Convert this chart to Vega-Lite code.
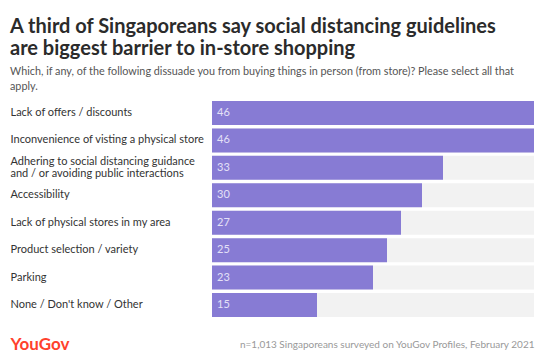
{
  "$schema": "https://vega.github.io/schema/vega-lite/v6.json",
  "width": 322,
  "height": 216,
  "autosize": "none",
  "padding": {"left": 212, "top": 101, "right": 10, "bottom": 42},
  "background": "white",
  "config": {"font": "Lato", "view": {"stroke": null}},
  "title": {
    "text": ["A third of Singaporeans say social distancing guidelines", "are biggest barrier to in-store shopping"],
    "subtitle": ["Which, if any, of the following dissuade you from buying things in person (from store)? Please select all that", "apply."],
    "anchor": "start",
    "frame": "group",
    "dx": -202,
    "offset": 9,
    "fontSize": 20,
    "fontWeight": "bold",
    "lineHeight": 22,
    "color": "#2b2b2b",
    "subtitleFontSize": 10.8,
    "subtitleColor": "#555555",
    "subtitleLineHeight": 15,
    "subtitlePadding": 7
  },
  "data": {
    "values": [
      {"label": "Lack of offers / discounts", "value": 46},
      {"label": "Inconvenience of visting a physical store", "value": 46},
      {"label": "Adhering to social distancing guidance|and / or avoiding public interactions", "value": 33},
      {"label": "Accessibility", "value": 30},
      {"label": "Lack of physical stores in my area", "value": 27},
      {"label": "Product selection / variety", "value": 25},
      {"label": "Parking", "value": 23},
      {"label": "None / Don't know / Other", "value": 15}
    ]
  },
  "encoding": {
    "y": {
      "field": "label",
      "type": "nominal",
      "sort": null,
      "scale": {"paddingInner": 0.125, "paddingOuter": 0},
      "axis": {
        "ticks": false,
        "tickSize": 0,
        "domain": false,
        "labelAlign": "left",
        "labelPadding": 202,
        "labelFontSize": 11,
        "labelColor": "#333333",
        "labelLimit": 300,
        "labelLineHeight": 12,
        "labelExpr": "split(datum.label, '|')",
        "labelOffset": {"expr": "indexof(datum.value, '|') >= 0 ? -6 : 0"},
        "title": "YouGov",
        "titleAngle": 0,
        "titleX": -202,
        "titleY": 248,
        "titleAlign": "left",
        "titleBaseline": "alphabetic",
        "titleFontSize": 17,
        "titleFontWeight": "bold",
        "titleColor": "#ff412c"
      }
    }
  },
  "layer": [
    {
      "mark": {"type": "bar", "color": "#f2f2f2"},
      "encoding": {
        "x": {"datum": 46, "type": "quantitative", "scale": {"domain": [0, 46], "nice": false}}
      }
    },
    {
      "mark": {"type": "bar", "color": "#877bd4"},
      "encoding": {
        "x": {
          "field": "value",
          "type": "quantitative",
          "scale": {"domain": [0, 46], "nice": false},
          "axis": {
            "domain": false,
            "ticks": false,
            "labels": false,
            "grid": false,
            "title": "n=1,013 Singaporeans surveyed on YouGov Profiles, February 2021",
            "titleAnchor": "end",
            "titleAlign": "right",
            "titleX": 322,
            "titleY": 30,
            "titleBaseline": "alphabetic",
            "titleFontSize": 10,
            "titleFontWeight": "normal",
            "titleColor": "#999999"
          }
        }
      }
    },
    {
      "mark": {"type": "text", "align": "left", "dx": 5, "fontSize": 11, "color": "#e4e0f7"},
      "encoding": {
        "x": {"datum": 0, "type": "quantitative"},
        "text": {"field": "value", "type": "quantitative"}
      }
    }
  ]
}
